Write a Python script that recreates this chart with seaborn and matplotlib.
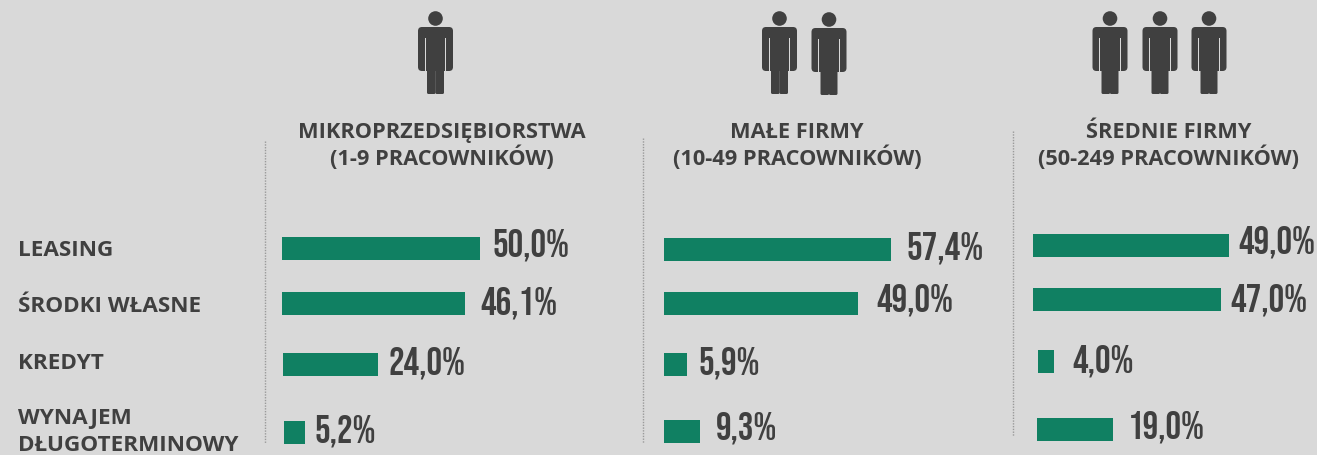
import matplotlib
matplotlib.use("Agg")
import matplotlib.pyplot as plt
import seaborn as sns
from matplotlib import font_manager as fm
from matplotlib.patches import Circle, FancyBboxPatch, Rectangle

# ---- data ----
categories = ["LEASING", "ŚRODKI WŁASNE", "KREDYT", "WYNAJEM\nDŁUGOTERMINOWY"]
mikro = [50.0, 46.1, 24.0, 5.2]
male = [57.4, 49.0, 5.9, 9.3]
srednie = [49.0, 47.0, 4.0, 19.0]
panel_titles = ["MIKROPRZEDSIĘBIORSTWA\n(1-9 PRACOWNIKÓW)",
                "MAŁE FIRMY\n(10-49 PRACOWNIKÓW)",
                "ŚREDNIE FIRMY\n(50-249 PRACOWNIKÓW)"]

# ---- layout (pixels) ----
W, H = 1317, 455
BG, GREEN, INK = "#D9D9D9", "#108062", "#404040"


def pick(cands, min_weight=400):
    have = {f.name for f in fm.fontManager.ttflist if (f.weight if isinstance(f.weight, int) else 400) >= min_weight}
    for c in cands:
        if c in have:
            return c
    return "DejaVu Sans"


LABEL_FONT = pick(["Source Sans Pro", "Source Sans 3", "Open Sans"], 700)
VALUE_FONT = pick(["Bebas Neue", "Oswald", "Liberation Sans"])
panels = [
    dict(vals=mikro, x0=282, ppu=3.96, rows=[248.5, 303.5, 364.5, 432.5], h=23,
         shift=[0, 0, 1, 2], lab_x=[493, 480, 389, 315], lab_y=[245, 303, 363, 431],
         title_x=442, div=(265, 141, 443), persons=[(435.5, 11)]),
    dict(vals=male, x0=664, ppu=3.955, rows=[249.5, 303.5, 364.5, 431], h=23,
         shift=[0, 0, 0, -1], lab_x=[906, 876, 699, 716], lab_y=[248, 300, 363, 428],
         title_x=797, div=(642.5, 138, 443), persons=[(779.5, 11), (829, 12)]),
    dict(vals=srednie, x0=1033, ppu=4.0, rows=[245.5, 299.5, 361.5, 429], h=23,
         shift=[0, 0, 5, 4], lab_x=[1238, 1230, 1072, 1128], lab_y=[242, 300, 361, 427],
         title_x=1169, div=(1013, 131, 436), persons=[(1110, 11), (1160, 11), (1209, 11)]),
]
label_y = [250.5, 306.5, 363.5, 432]

sns.set_theme(style="white", rc={"figure.facecolor": BG, "axes.facecolor": BG})
fig = plt.figure(figsize=(W / 100, H / 100), dpi=100, facecolor=BG)

ov = fig.add_axes([0, 0, 1, 1], zorder=3)
ov.set_xlim(0, W)
ov.set_ylim(H, 0)
ov.axis("off")
ov.patch.set_alpha(0)


def person(cx, top):
    c = INK
    ov.add_patch(Circle((cx, top + 7.5), 7.3, fc=c, ec="none"))
    ov.add_patch(FancyBboxPatch((cx - 14.5, top + 19), 29, 38, boxstyle="round,pad=3,rounding_size=4",
                                fc=c, ec="none"))
    ov.add_patch(Rectangle((cx - 10.6, top + 27), 1.0, 34, fc=BG, ec="none"))
    ov.add_patch(Rectangle((cx + 9.6, top + 27), 1.0, 34, fc=BG, ec="none"))
    ov.add_patch(FancyBboxPatch((cx - 7.5, top + 48), 6.6, 34, boxstyle="round,pad=1,rounding_size=1.5",
                                fc=c, ec="none"))
    ov.add_patch(FancyBboxPatch((cx + 0.9, top + 48), 6.6, 34, boxstyle="round,pad=1,rounding_size=1.5",
                                fc=c, ec="none"))


for p, title in zip(panels, panel_titles):
    span = 260
    ax = fig.add_axes([p["x0"] / W, 0, span / W, 1], zorder=1)
    w = p["h"] / min(b - a for a, b in zip(p["rows"], p["rows"][1:]))
    sns.barplot(x=p["vals"], y=p["rows"], orient="y", native_scale=True, width=w,
                color=GREEN, saturation=1, linewidth=0, ax=ax)
    ax.set_xlim(0, span / p["ppu"])
    ax.set_ylim(H, 0)
    ax.axis("off")
    for bar, s in zip(ax.patches, p["shift"]):
        bar.set_x(s / p["ppu"])
    for v, x, y in zip(p["vals"], p["lab_x"], p["lab_y"]):
        ov.text(x, y, f"{v:.1f}%".replace(".", ","), family=VALUE_FONT, weight="normal",
                fontsize=28, color=INK, ha="left", va="center")
    ov.text(p["title_x"], 146, title, family=LABEL_FONT, weight="bold", fontsize=15.7,
            color=INK, ha="center", va="center", linespacing=1.15)
    dx, y0, y1 = p["div"]
    ov.plot([dx, dx], [y0, y1], color="#9a9a9a", lw=1, ls=(0, (1, 1)))
    for cx, top in p["persons"]:
        person(cx, top)

for cat, y in zip(categories, label_y):
    ov.text(18, y, cat, family=LABEL_FONT, weight="bold", fontsize=16.2, color=INK,
            ha="left", va="center", linespacing=1.38)

fig.savefig("out.png", dpi=100, facecolor=BG)
